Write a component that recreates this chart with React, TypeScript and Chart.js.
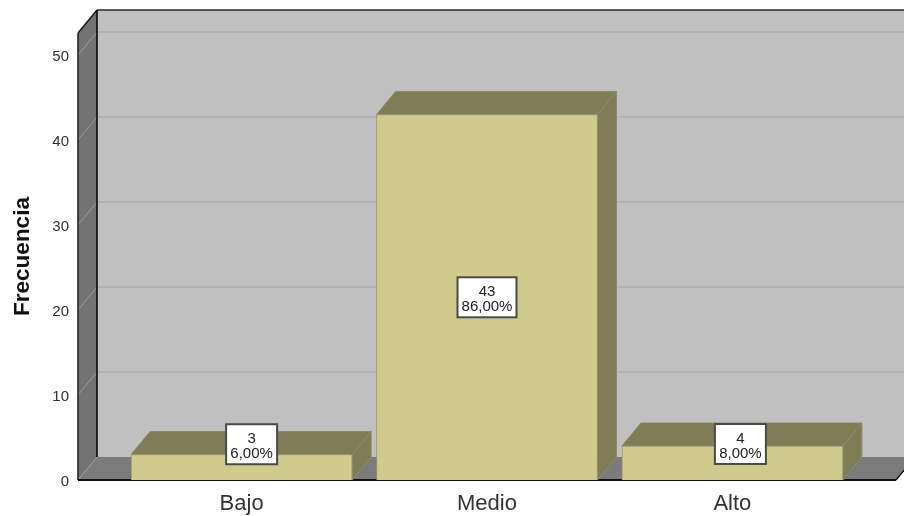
import React, { useEffect, useRef } from "react";
import { Chart, registerables } from "chart.js";

Chart.register(...registerables);

const categories = ["Bajo", "Medio", "Alto"];
const counts = [3, 43, 4];
const percentLabels = ["6,00%", "86,00%", "8,00%"];
const yTicks = [0, 10, 20, 30, 40, 50];

const DEPTH_X = 19;
const DEPTH_Y = 23;
const FONT = '"Liberation Sans", Arial, sans-serif';

function poly(ctx: CanvasRenderingContext2D, pts: number[][], fill: string | null, stroke?: string, lw = 1) {
  ctx.beginPath();
  pts.forEach(([x, y], i) => (i ? ctx.lineTo(x, y) : ctx.moveTo(x, y)));
  ctx.closePath();
  if (fill) {
    ctx.fillStyle = fill;
    ctx.fill();
  }
  if (stroke) {
    ctx.strokeStyle = stroke;
    ctx.lineWidth = lw;
    ctx.stroke();
  }
}

function segment(ctx: CanvasRenderingContext2D, x1: number, y1: number, x2: number, y2: number, color: string, lw: number) {
  ctx.beginPath();
  ctx.moveTo(x1, y1);
  ctx.lineTo(x2, y2);
  ctx.strokeStyle = color;
  ctx.lineWidth = lw;
  ctx.stroke();
}

// Back wall, side wall and floor of the 3D box, plus the gridlines on the walls.
const boxPlugin = {
  id: "box3d",
  beforeDatasetsDraw(chart: any) {
    const { ctx, chartArea: a, scales } = chart;
    const y = scales.y;
    ctx.save();
    poly(ctx, [[a.left + DEPTH_X, a.top - DEPTH_Y], [a.right + DEPTH_X, a.top - DEPTH_Y], [a.right + DEPTH_X, a.bottom - DEPTH_Y], [a.left + DEPTH_X, a.bottom - DEPTH_Y]], "#c0c0c0");
    poly(ctx, [[a.left, a.top], [a.left + DEPTH_X, a.top - DEPTH_Y], [a.left + DEPTH_X, a.bottom - DEPTH_Y], [a.left, a.bottom]], "#737373");
    poly(ctx, [[a.left, a.bottom], [a.left + DEPTH_X, a.bottom - DEPTH_Y], [a.right + DEPTH_X, a.bottom - DEPTH_Y], [a.right, a.bottom]], "#7b7b7b");
    yTicks.forEach((v) => {
      const py = y.getPixelForValue(v);
      if (v > 0) segment(ctx, a.left + DEPTH_X, py - DEPTH_Y, a.right + DEPTH_X, py - DEPTH_Y, "#b2b2b2", 2);
      segment(ctx, a.left, py, a.left + DEPTH_X, py - DEPTH_Y, "#9a9a9a", 1);
    });
    segment(ctx, a.left + DEPTH_X, a.top - DEPTH_Y, a.right + DEPTH_X, a.top - DEPTH_Y, "#2a2a2a", 1.5);
    segment(ctx, a.left, a.top, a.left + DEPTH_X, a.top - DEPTH_Y, "#1a1a1a", 1.5);
    segment(ctx, a.left, a.top, a.left, a.bottom, "#1a1a1a", 1.5);
    segment(ctx, a.left + DEPTH_X, a.top - DEPTH_Y, a.left + DEPTH_X, a.bottom - DEPTH_Y, "#000000", 1.5);
    segment(ctx, a.left, a.bottom, a.right, a.bottom, "#111111", 2);
    segment(ctx, a.right, a.bottom, a.right + DEPTH_X, a.bottom - DEPTH_Y, "#111111", 1.5);

    // Top and side faces of each bar; the front face is the dataset's own bar.
    chart.getDatasetMeta(0).data.forEach((bar: any) => {
      const { x, y: top, base, width } = bar.getProps(["x", "y", "base", "width"], true);
      const l = x - width / 2;
      const r = x + width / 2;
      poly(ctx, [[l, top], [l + DEPTH_X, top - DEPTH_Y], [r + DEPTH_X, top - DEPTH_Y], [r, top]], "#807d56", "#8d8b68");
      poly(ctx, [[r, top], [r + DEPTH_X, top - DEPTH_Y], [r + DEPTH_X, base - DEPTH_Y], [r, base]], "#807d56", "#8d8b68");
    });
    ctx.restore();
  },
  afterDatasetsDraw(chart: any) {
    const { ctx } = chart;
    // Short bars push their labels up and to the right so the box stays readable.
    const shifts = [[10, -23], [0, 0], [8, -19]];
    ctx.save();
    chart.getDatasetMeta(0).data.forEach((bar: any, i: number) => {
      const { x, y: top, base } = bar.getProps(["x", "y", "base"], true);
      const cx = x + shifts[i][0];
      const cy = (top + base) / 2 + shifts[i][1];
      ctx.font = `15px ${FONT}`;
      const w = Math.ceil(ctx.measureText(percentLabels[i]).width) + 8;
      const h = 40;
      ctx.fillStyle = "#ffffff";
      ctx.fillRect(cx - w / 2, cy - h / 2, w, h);
      ctx.strokeStyle = "#4a4a4a";
      ctx.lineWidth = 2;
      ctx.strokeRect(cx - w / 2, cy - h / 2, w, h);
      ctx.fillStyle = "#222222";
      ctx.textAlign = "center";
      ctx.textBaseline = "middle";
      ctx.fillText(String(counts[i]), cx, cy - 5);
      ctx.fillText(percentLabels[i], cx, cy + 10);
    });
    ctx.restore();
  },
};

export default function App() {
  const ref = useRef<HTMLCanvasElement>(null);
  useEffect(() => {
    const chart = new Chart(ref.current!, {
      type: "bar",
      data: {
        datasets: [
          {
            data: counts.map((v, i) => ({ x: i, y: v })),
            backgroundColor: "#cfcb8d",
            borderColor: "#9b9870",
            borderWidth: 1,
            barThickness: 221,
          },
        ],
      },
      options: {
        responsive: false,
        animation: false,
        layout: { padding: { top: 33, right: 8, left: 0, bottom: 0 } },
        plugins: { legend: { display: false }, tooltip: { enabled: false } },
        scales: {
          x: {
            type: "linear",
            offset: false,
            min: -2 / 3,
            max: 8 / 3,
            grid: { display: false },
            border: { display: false },
            afterBuildTicks(s: any) {
              s.ticks = categories.map((_, i) => ({ value: i }));
            },
            afterFit(s: any) {
              s.height = 36;
            },
            ticks: {
              autoSkip: false,
              maxRotation: 0,
              padding: 3,
              color: "#333333",
              font: { family: FONT, size: 22 },
              callback: (v: any) => categories[v],
            },
          },
          y: {
            min: 0,
            max: 52.6,
            grid: { display: false },
            border: { display: false },
            afterBuildTicks(s: any) {
              s.ticks = yTicks.map((value) => ({ value }));
            },
            afterFit(s: any) {
              s.width = 78;
            },
            title: {
              display: true,
              text: "Frecuencia",
              color: "#111111",
              font: { family: FONT, size: 22.5, weight: "bold" },
              padding: { top: 9, bottom: 0 },
            },
            ticks: { padding: 1, labelOffset: 2, color: "#333333", font: { family: FONT, size: 15 } },
          },
        },
      },
      plugins: [boxPlugin],
    } as any);
    return () => chart.destroy();
  }, []);
  return (
    <div style={{ position: "fixed", left: 0, top: 0, width: 904, height: 516, background: "#ffffff" }}>
      <canvas ref={ref} width={904} height={516} style={{ display: "block" }} />
    </div>
  );
}
